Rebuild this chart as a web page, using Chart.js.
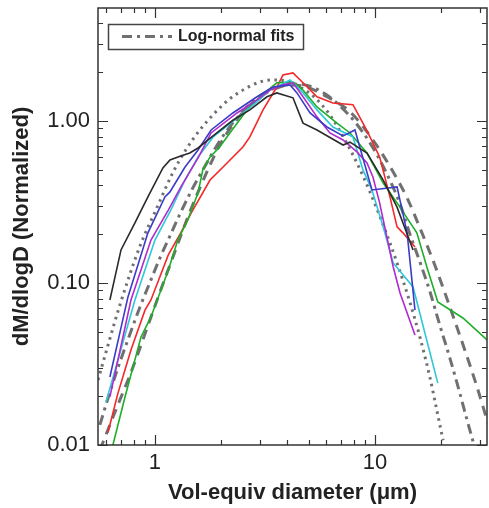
<!DOCTYPE html>
<html>
<head>
<meta charset="utf-8">
<script src="https://cdn.jsdelivr.net/npm/chart.js@4.4.1/dist/chart.umd.min.js"></script>
<style>
  html, body { margin: 0; padding: 0; background: #fff; }
  #wrap { width: 489px; height: 508px; position: relative; }
</style>
</head>
<body>
<div id="wrap"><canvas id="psd-chart"></canvas></div>
<script>
// diameters (um) and normalized dM/dlogD
const blackD = [0.624,0.701,0.811,0.929,1.087,1.17,1.31,1.44,1.57,1.91,2.26,2.70,3.23,3.58,4.24,4.71,5.45,7.16,7.70,9.20,10.9,12.6,14.9];
const blackV = [0.0785,0.160,0.235,0.340,0.513,0.575,0.608,0.634,0.681,0.843,1.01,1.17,1.41,1.49,1.39,0.97,0.88,0.71,0.74,0.634,0.432,0.294,0.160];

const blueD = [0.624,0.754,0.929,1.11,1.17,1.37,1.57,1.80,2.26,2.91,3.44,4.11,4.42,5.07,6.05,7.16,8.11,9.69,12.6,14.0,15.2];
const blueV = [0.0263,0.082,0.204,0.340,0.365,0.520,0.662,0.880,1.12,1.41,1.62,1.67,1.49,1.12,0.918,0.808,0.880,0.375,0.392,0.204,0.068];

const purpleD = [0.624,0.778,0.959,1.15,1.31,1.57,1.80,2.36,2.91,3.33,3.82,4.24,4.71,5.45,6.24,7.16,8.28,9.20,9.79,10.5,12.1,13.0,15.2];
const purpleV = [0.0198,0.0785,0.184,0.282,0.391,0.591,0.843,1.12,1.35,1.55,1.67,1.72,1.41,1.06,0.843,0.763,0.644,0.551,0.451,0.312,0.126,0.0867,0.0478];

const cyanD = [0.599,0.811,1.0,1.18,1.37,1.57,1.84,2.36,2.91,3.33,4.11,4.71,5.45,6.44,7.94,8.82,9.69,10.9,12.1,14.9,19.3];
const cyanV = [0.0184,0.0785,0.184,0.282,0.432,0.600,0.797,1.04,1.31,1.55,1.79,1.49,1.17,0.918,0.797,0.499,0.375,0.222,0.133,0.0945,0.0241];

const greenD = [0.644,0.731,0.864,0.959,1.15,1.27,1.41,1.57,1.65,1.78,1.97,2.19,2.62,3.00,3.58,4.24,4.71,5.45,6.72,7.70,9.20,10.9,12.6,15.5,17.2,19.3,25.1,32.3];
const greenV = [0.0100,0.0198,0.0464,0.0617,0.120,0.184,0.245,0.360,0.499,0.600,0.691,0.843,1.17,1.41,1.72,1.74,1.55,1.22,0.97,0.843,0.634,0.414,0.312,0.204,0.126,0.0763,0.0608,0.0445];

const redD = [0.611,0.679,0.778,0.901,0.959,1.15,1.31,1.46,1.78,2.04,2.51,2.70,3.10,3.58,3.82,4.24,4.71,5.45,6.44,7.94,8.82,9.49,10.5,11.7,12.6,13.4,15.2];
const redV = [0.0119,0.0209,0.0386,0.068,0.0785,0.149,0.204,0.270,0.432,0.520,0.691,0.797,1.17,1.62,1.92,1.98,1.72,1.41,1.29,1.26,0.97,0.797,0.600,0.340,0.222,0.204,0.167];

// log-normal fits (gray)
const dotD = [0.551,0.693,0.855,1.01,1.21,1.38,1.60,1.87,2.19,2.57,3.00,3.40,3.90,4.56,5.34,6.24,7.31,8.28,9.49,10.9,12.6,14.4,16.0,17.8,19.1,20.4];
const dotV = [0.0252,0.0731,0.169,0.282,0.484,0.662,0.880,1.12,1.37,1.58,1.74,1.79,1.77,1.62,1.39,1.09,0.763,0.551,0.365,0.228,0.133,0.0763,0.0464,0.0259,0.0164,0.0107];

const dashD = [0.562,0.624,0.693,0.770,0.855,0.949,1.054,1.17,1.30,1.44,1.60,1.78,1.97,2.24,2.57,3.00,3.51,4.11,4.91,6.05,7.70,9.79,12.1,14.0,16.0,18.7,21.9,25.6,29.1,33.3];
const dashV = [0.0093,0.0133,0.0190,0.0270,0.0397,0.0591,0.0880,0.129,0.190,0.274,0.386,0.535,0.711,0.931,1.17,1.41,1.58,1.67,1.62,1.41,1.14,0.763,0.484,0.335,0.219,0.129,0.0711,0.0386,0.0228,0.0124];

const dashDotD = [0.562,0.624,0.693,0.770,0.855,0.949,1.054,1.17,1.30,1.47,1.69,1.97,2.31,2.70,3.16,3.70,4.33,5.07,5.93,6.93,8.11,9.49,11.1,13.0,14.4,16.0,17.8,19.7,21.9,24.3,26.2,28.2];
const dashDotV = [0.0133,0.0212,0.0325,0.0484,0.0711,0.101,0.143,0.195,0.267,0.375,0.528,0.753,1.01,1.27,1.49,1.64,1.69,1.64,1.47,1.24,0.986,0.732,0.499,0.307,0.201,0.135,0.0880,0.0550,0.0344,0.0209,0.0143,0.0100];

// axis ticks
const xLabelVals = [1, 10];
const yLabelVals = [0.01, 0.1, 1];
const xMinor = [0.6,0.7,0.8,0.9,2,3,4,5,6,7,8,9,20,30];
const yMinor = [0.02,0.03,0.04,0.05,0.06,0.07,0.08,0.09,0.2,0.3,0.4,0.5,0.6,0.7,0.8,0.9,2,3,4];

const FONT = "'Liberation Sans', Arial, Helvetica, sans-serif";
const AXIS = '#333';
const FIT = '#707070';

function pts(d, v) { return d.map((x, i) => ({x: x, y: v[i]})); }

function series(label, d, v, color, extra) {
  return Object.assign({
    label: label,
    data: pts(d, v),
    borderColor: color,
    backgroundColor: color,
    borderWidth: 1.6,
    pointRadius: 0,
    showLine: true,
    fill: false,
    tension: 0,
    clip: 0
  }, extra || {});
}

const fitStyle = {borderWidth: 3, cubicInterpolationMode: 'monotone'};

const frameAndTicks = {
  id: 'frameAndTicks',
  afterDraw(chart) {
    const {ctx, chartArea: {left, right, top, bottom}, scales: {x, y}} = chart;
    ctx.save();
    ctx.strokeStyle = AXIS;
    ctx.lineWidth = 1.5;
    ctx.strokeRect(left, top, right - left, bottom - top);
    ctx.lineWidth = 1.2;
    ctx.beginPath();
    xLabelVals.concat(xMinor).forEach(v => {
      const px = Math.round(x.getPixelForValue(v)) + 0.5;
      const len = xLabelVals.includes(v) ? 10 : 5;
      ctx.moveTo(px, bottom); ctx.lineTo(px, bottom - len);
      ctx.moveTo(px, top); ctx.lineTo(px, top + len);
    });
    yLabelVals.concat(yMinor).forEach(v => {
      const py = Math.round(y.getPixelForValue(v)) + 0.5;
      const len = yLabelVals.includes(v) ? 10 : 5;
      ctx.moveTo(left, py); ctx.lineTo(left + len, py);
      ctx.moveTo(right, py); ctx.lineTo(right - len, py);
    });
    ctx.stroke();

    // legend box
    ctx.fillStyle = '#fff';
    ctx.fillRect(108, 24, 195, 25);
    ctx.strokeStyle = '#444';
    ctx.lineWidth = 1.5;
    ctx.strokeRect(108.5, 24.5, 195, 25);
    ctx.strokeStyle = FIT;
    ctx.lineWidth = 3;
    ctx.setLineDash([10, 5, 3, 5]);
    ctx.beginPath();
    ctx.moveTo(122, 36.5); ctx.lineTo(172, 36.5);
    ctx.stroke();
    ctx.setLineDash([]);
    ctx.fillStyle = '#222';
    ctx.font = 'bold 16px ' + FONT;
    ctx.textBaseline = 'middle';
    ctx.fillText('Log-normal fits', 178, 37);
    ctx.restore();
  }
};

new Chart('psd-chart', {
  type: 'scatter',
  data: {
    datasets: [
      series('black', blackD, blackV, '#2a2a2a'),
      series('blue', blueD, blueV, '#3b3bc8'),
      series('purple', purpleD, purpleV, '#b02ad0'),
      series('cyan', cyanD, cyanV, '#2ec8d8'),
      series('green', greenD, greenV, '#1fae2a'),
      series('red', redD, redV, '#f42828'),
      series('fit dotted', dotD, dotV, FIT, Object.assign({borderDash: [2.5, 4.5]}, fitStyle)),
      series('fit dash-dot', dashDotD, dashDotV, FIT, Object.assign({borderDash: [10, 5, 3, 5]}, fitStyle)),
      series('fit dashed', dashD, dashV, FIT, Object.assign({borderDash: [10, 7]}, fitStyle))
    ]
  },
  options: {
    responsive: true,
    maintainAspectRatio: false,
    animation: false,
    devicePixelRatio: 1,
    layout: { padding: { top: 8, right: 2, left: 0, bottom: 0 } },
    plugins: {
      legend: { display: false },
      tooltip: { enabled: false }
    },
    scales: {
      x: {
        type: 'logarithmic',
        min: 0.551,
        max: 32.3,
        afterBuildTicks: s => { s.ticks = xLabelVals.map(v => ({value: v, major: true})); },
        afterFit: s => { s.height = 63; s.paddingLeft = 0; s.paddingRight = 0; },
        grid: { display: false, drawTicks: false },
        border: { display: false },
        ticks: {
          autoSkip: false,
          maxRotation: 0,
          padding: 5,
          color: '#222',
          font: { family: FONT, size: 22 },
          callback: v => String(v)
        },
        title: {
          display: true,
          text: 'Vol-equiv diameter (\u03bcm)',
          color: '#222',
          font: { family: FONT, size: 22, weight: 'bold' },
          padding: { top: 0, bottom: 2 }
        }
      },
      y: {
        type: 'logarithmic',
        min: 0.01,
        max: 4.98,
        afterBuildTicks: s => { s.ticks = yLabelVals.map(v => ({value: v, major: true})); },
        afterFit: s => { s.width = 98; s.paddingTop = 0; s.paddingBottom = 0; },
        grid: { display: false, drawTicks: false },
        border: { display: false },
        ticks: {
          autoSkip: false,
          padding: 8,
          color: '#222',
          font: { family: FONT, size: 22 },
          callback: v => Number(v).toFixed(2)
        },
        title: {
          display: true,
          text: 'dM/dlogD (Normalized)',
          color: '#222',
          font: { family: FONT, size: 22, weight: 'bold' },
          padding: { top: 9, bottom: 0 }
        }
      }
    }
  },
  plugins: [frameAndTicks]
});
</script>
</body>
</html>
